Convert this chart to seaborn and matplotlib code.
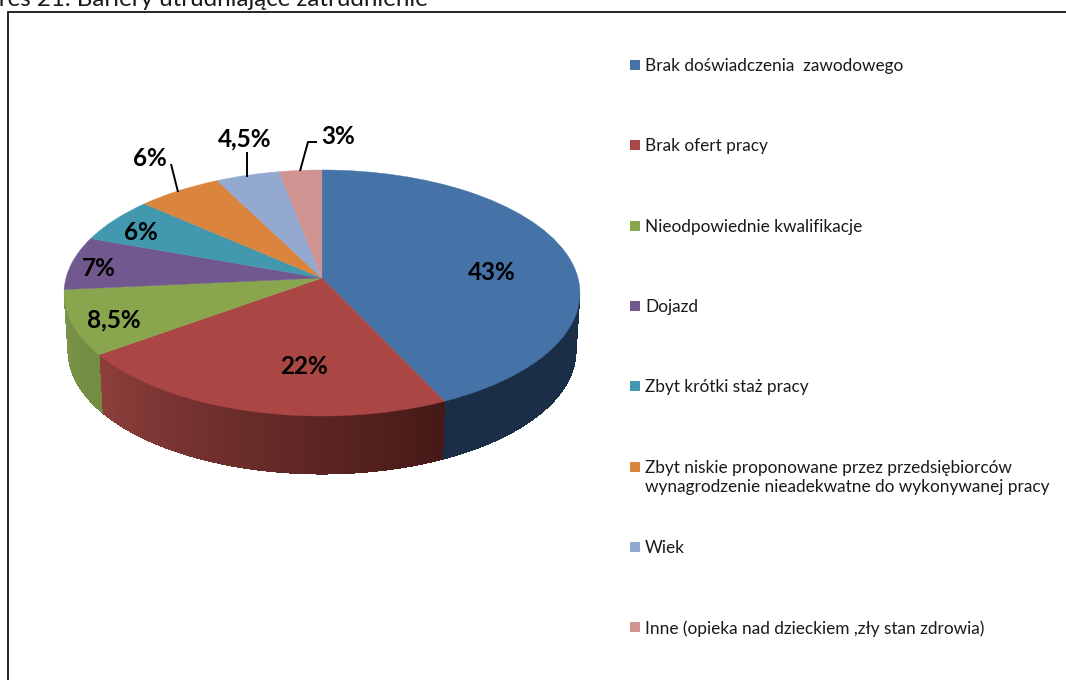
import numpy as np
import matplotlib
matplotlib.use("Agg")
import matplotlib.pyplot as plt
from matplotlib.colors import to_rgb
from matplotlib.patches import Rectangle
from matplotlib.transforms import Transform
import seaborn as sns

categories = [
    "Brak doświadczenia  zawodowego",
    "Brak ofert pracy",
    "Nieodpowiednie kwalifikacje",
    "Dojazd",
    "Zbyt krótki staż pracy",
    "Zbyt niskie proponowane przez przedsiębiorców\nwynagrodzenie nieadekwatne do wykonywanej pracy",
    "Wiek",
    "Inne (opieka nad dzieckiem ,zły stan zdrowia)",
]
values = [43, 22, 8.5, 7, 6, 6, 4.5, 3]
value_labels = ["43%", "22%", "8,5%", "7%", "6%", "6%", "4,5%", "3%"]
colors = ["#4572A7", "#AA4643", "#89A54E", "#71588F", "#4198AF", "#DB843D", "#93A9CF", "#D19392"]
side_left = ["#1B2E47", "#8E3F3C", "#7A9548", "#4A3A5E", "#2B6474", "#8F5628", "#606F88", "#8A6160"]
side_right = ["#1B2E47", "#451917", "#728C42", "#4A3A5E", "#2B6474", "#8F5628", "#606F88", "#8A6160"]
title_text = "Wykres 21. Bariery utrudniające zatrudnienie"

sns.set_theme(style="white")
plt.rcParams["font.family"] = ["Lato", "DejaVu Sans"]

W, H = 1066, 680
fig = plt.figure(figsize=(W / 100, H / 100), dpi=100, facecolor="white")
ax = fig.add_axes([0, 0, 1, 1])

# perspective projection of the unit disc onto the page
CX, CY, K, A, C, DEPTH, SHRINK = 322.0, 278.0, 0.122, 256.0, 121.2, 58.0, 0.985


def project(x, y):
    w = 1 + K * y
    return CX + A * x / w, CY - C * y / w


class Perspective(Transform):
    input_dims = 2
    output_dims = 2
    is_separable = False
    has_inverse = False

    def transform_non_affine(self, xy):
        xy = np.asarray(xy, dtype=float)
        X, Y = project(xy[:, 0], xy[:, 1])
        return np.column_stack([X, Y])


wedges, _ = ax.pie(values, colors=colors, startangle=90, counterclock=False, radius=1)
persp = Perspective() + ax.transData
for w, col in zip(wedges, colors):
    w.set_transform(persp)
    w.set_edgecolor(col)
    w.set_linewidth(0.3)
    w.set_zorder(3)

ax.set_aspect("auto")
ax.set_xlim(0, W)
ax.set_ylim(H, 0)
ax.set_axis_off()

# rim of the pie, from the same values
fractions = np.cumsum([0] + values) / sum(values)
min_y = -K
for i in range(len(values)):
    th = np.radians(np.linspace(90 - 360 * fractions[i], 90 - 360 * fractions[i + 1], 200))
    keep = np.sin(th) < min_y
    if keep.sum() < 2:
        continue
    th = th[keep]
    px, py = project(np.cos(th), np.sin(th))
    span = np.linspace(0, 1, len(th))
    # gradient runs left to right on screen
    if px[0] > px[-1]:
        span = span[::-1]
    c0, c1 = np.array(to_rgb(side_left[i])), np.array(to_rgb(side_right[i]))
    for j in range(len(th) - 1):
        bx0 = CX + (px[j] - CX) * SHRINK
        bx1 = CX + (px[j + 1] - CX) * SHRINK
        ax.fill([px[j], px[j + 1], bx1, bx0],
                [py[j], py[j + 1], py[j + 1] + DEPTH, py[j] + DEPTH],
                color=c0 + (c1 - c0) * span[j], lw=0, antialiased=False, zorder=2)

# data labels
label_xy = [(492, 273), (304, 367), (114, 320), (99, 268), (141, 232), (150, 158), (245, 139), (338, 136)]
for (lx, ly), t in zip(label_xy, value_labels):
    ax.text(lx, ly, t, ha="center", va="center", fontsize=17.5, fontweight="bold", color="black", zorder=5)

# leader lines
for xs, ys in [([171, 178], [164, 192]), ([247, 247], [152, 177]), ([317, 308, 300], [142, 142, 171])]:
    ax.plot(xs, ys, color="black", lw=1.4, zorder=5, solid_capstyle="butt")

# legend column
for i, (name, col) in enumerate(zip(categories, colors)):
    y = 65 + 80.3 * i
    ax.add_patch(Rectangle((630, y - 5), 10, 10, facecolor=col, edgecolor="none", zorder=4))
    ax.text(645, y - 7, name, ha="left", va="top", fontsize=12.4, color="#1a1a1a",
            linespacing=1.28, zorder=4)

# outer frame and clipped caption
ax.plot([8, 8, W], [H, 12, 12], color="black", lw=1.2, zorder=6, solid_joinstyle="miter", clip_on=False)
ax.text(428, 6, title_text, ha="right", va="baseline", fontsize=17.4, color="#1a1a1a", zorder=6)

fig.savefig("out.png", dpi=100, facecolor="white")
